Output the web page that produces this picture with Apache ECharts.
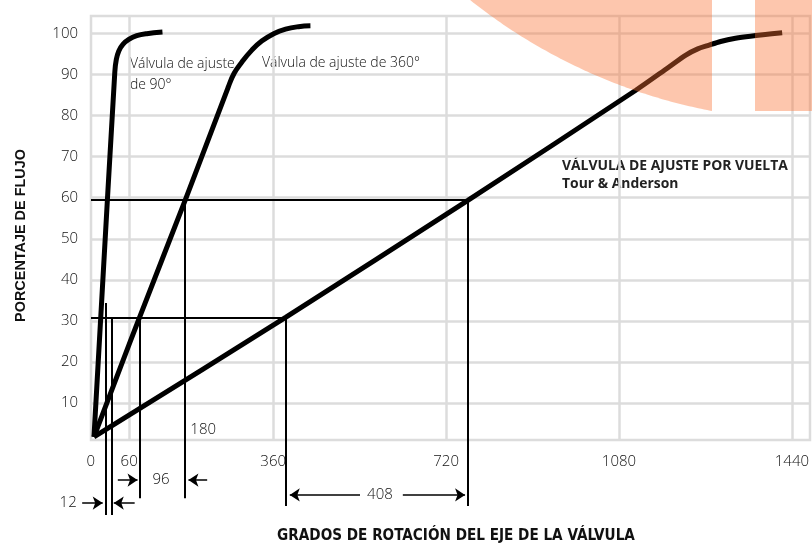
<!DOCTYPE html>
<html><head><meta charset="utf-8">
<script src="https://cdn.jsdelivr.net/npm/echarts@6/dist/echarts.min.js"></script>
<style>html,body{margin:0;padding:0;background:#fff}#c{width:812px;height:546px}</style>
</head><body><div id="c"></div>
<script>
// ---- data (degrees of rotation, % flow) ----
const xGridTicks = [60, 360, 720, 1080, 1440];
const xTickLabels = [0, 60, 360, 720, 1080, 1440];
const yTickLabels = [10, 20, 30, 40, 50, 60, 70, 80, 90, 100];
const xMin = -19.4, xMax = 1477.7, yMin = 1.05, yMax = 104.2;

const valve90 = [[-13.2,1.8],[30.2,90.6],[33.3,93.6],[38.5,95.7],[47.0,97.3],[59.3,98.5],[75.9,99.4],[96.6,99.9],[129.4,100.3]];
const valve360 = [[-13.2,1.8],[81.7,30.9],[176.8,59.4],[266.0,86.8],[278.4,90.2],[294.9,93.0],[315.5,95.9],[336.1,98.1],[361.0,99.9],[385.8,101.0],[412.7,101.6],[437.5,101.8]];
const valveTurn = [[-13.2,1.8],[385.8,30.9],[766.1,59.4],[1115.8,86.2],[1184.1,91.8],[1219.2,94.7],[1244.0,96.2],[1264.7,97.0],[1291.6,98.0],[1322.6,98.8],[1353.6,99.3],[1419.8,100.1]];

// reference lines: horizontal [y, x1, x2], vertical [x, y1, y2]
const refH = [[59.4, xMin, 766.1], [30.9, xMin, 385.8]];
const refV = [[10.5,34.4,-17.2],[23.4,30.9,-17.2],[81.9,30.9,-13.1],[176.8,59.4,-13.1],[385.8,30.9,-15.0],[766.1,59.4,-15.0]];
// dimension arrows [fromX, tipX, y]
const arrows = [[-37.8,5.0,-14.3],[71.5,28.0,-14.3],[36.4,77.5,-8.7],[222.5,183.5,-8.7],[540.8,394.5,-12.3],[629.9,759.5,-12.3]];
const dimLabels = [['12',-67,-14.3],['96',126.3,-8.7],['408',582.3,-12.3],['180',214.2,3.5]];

// ---- helpers ----
const ctx = document.createElement('canvas').getContext('2d');
function fit(text, weight, family, w){ ctx.font = weight + ' 100px ' + family; return 100 * w / ctx.measureText(text).width; }
const LF = '"Open Sans", sans-serif';
const txtColor = '#111';

const chart = echarts.init(document.getElementById('c'));

// orange overlay shape (decoration)
const cx = 815.6, cy = -433.8, r = 554.6;
const arcPts = [];
for (let x = 470.1; x <= 712; x += 3) arcPts.push([x, Math.min(111, cy + Math.sqrt(Math.max(0, r*r - (x-cx)*(x-cx))))]);
arcPts.push([712, 111]); arcPts.push([712, 0]);

const s1 = fit('Válvula de ajuste de 360°', 300, LF, 158);
const s4 = fit('VÁLVULA DE AJUSTE POR VUELTA', 700, LF, 226);
const sx = fit('GRADOS DE ROTACIÓN DEL EJE DE LA VÁLVULA', 700, '"Liberation Sans Narrow", "DejaVu Sans Condensed", sans-serif', 358);
const sy = fit('PORCENTAJE DE FLUJO', 700, '"Liberation Sans", sans-serif', 173);

function lineSeries(data, smooth){
  return {type:'line', data, showSymbol:false, smooth, clip:false,
    lineStyle:{color:'#000', width:5, cap:'butt'}, silent:true, z:3};
}

chart.setOption({
  animation:false,
  grid:{left:91, right:-3, top:16, bottom:106, show:true, borderColor:'#dcdcdc', borderWidth:2.5, backgroundColor:'transparent'},
  xAxis:{type:'value', min:xMin, max:xMax,
    axisLine:{show:false}, axisTick:{show:false, customValues:xGridTicks},
    splitLine:{show:true, lineStyle:{color:'#dcdcdc', width:2.5}},
    axisLabel:{customValues:xTickLabels, margin:14, fontSize:15, fontFamily:LF, fontWeight:300, color:txtColor,
      formatter:v => v === 0 ? '{z|0}' : String(v),
      rich:{z:{padding:[0,19,0,0], fontSize:15, fontFamily:LF, fontWeight:300, color:txtColor}}}},
  yAxis:{type:'value', min:yMin, max:yMax,
    axisLine:{show:false}, axisTick:{show:false, customValues:yTickLabels},
    splitLine:{show:true, lineStyle:{color:'#dcdcdc', width:2.5}},
    axisLabel:{customValues:yTickLabels, margin:13, fontSize:15, fontFamily:LF, fontWeight:300, color:txtColor}},
  series:[
    lineSeries(valve90, 0.4), lineSeries(valve360, 0.45), lineSeries(valveTurn, 0.3),
    {type:'lines', coordinateSystem:'cartesian2d', clip:false, silent:true, z:2,
      lineStyle:{color:'#000', width:2, opacity:1},
      data: refH.map(d => ({coords:[[d[1],d[0]],[d[2],d[0]]]})).concat(refV.map(d => ({coords:[[d[0],d[1]],[d[0],d[2]]]})))},
    {type:'lines', coordinateSystem:'cartesian2d', clip:false, silent:true, z:2,
      symbol:['none','arrow'], symbolSize:[9,10],
      lineStyle:{color:'#000', width:1.5, opacity:1},
      data: arrows.map(d => ({coords:[[d[0],d[2]],[d[1],d[2]]]}))},
    {type:'scatter', clip:false, silent:true, symbolSize:0, itemStyle:{color:'#000'},
      data: dimLabels.map(d => ({name:d[0], value:[d[1],d[2]]})),
      label:{show:true, position:'inside', formatter:p => p.name, fontSize:15, fontFamily:LF, fontWeight:300, color:txtColor, opacity:1}}
  ],
  graphic:[
    {type:'text', x:130, y:64, style:{text:'Válvula de ajuste', fontSize:s1, fontFamily:LF, fontWeight:300, fill:txtColor, textVerticalAlign:'middle'}},
    {type:'text', x:130, y:85, style:{text:'de 90°', fontSize:s1, fontFamily:LF, fontWeight:300, fill:txtColor, textVerticalAlign:'middle'}},
    {type:'text', x:262, y:63, style:{text:'Válvula de ajuste de 360°', fontSize:s1, fontFamily:LF, fontWeight:300, fill:txtColor, textVerticalAlign:'middle'}},
    {type:'text', x:562, y:166.5, style:{text:'VÁLVULA DE AJUSTE POR VUELTA', fontSize:s4, fontFamily:LF, fontWeight:700, fill:'#222', textVerticalAlign:'middle'}},
    {type:'text', x:562, y:184, style:{text:'Tour & Anderson', fontSize:s4, fontFamily:LF, fontWeight:700, fill:'#222', textVerticalAlign:'middle'}},
    {type:'text', x:456, y:536, style:{text:'GRADOS DE ROTACIÓN DEL EJE DE LA VÁLVULA', fontSize:sx, fontFamily:'"Liberation Sans Narrow", "DejaVu Sans Condensed", sans-serif', fontWeight:700, fill:'#111', textAlign:'center', textVerticalAlign:'middle'}},
    {type:'text', x:21, y:235.5, rotation:Math.PI/2, style:{text:'PORCENTAJE DE FLUJO', fontSize:sy, fontFamily:'"Liberation Sans", sans-serif', fontWeight:700, fill:'#111', textAlign:'center', textVerticalAlign:'middle'}},
    {type:'polygon', z:100, silent:true, shape:{points:arcPts}, style:{fill:'rgba(250,112,50,0.4)'}},
    {type:'rect', z:100, silent:true, shape:{x:755, y:0, width:60, height:111}, style:{fill:'rgba(250,112,50,0.4)'}}
  ]
});
</script></body></html>
